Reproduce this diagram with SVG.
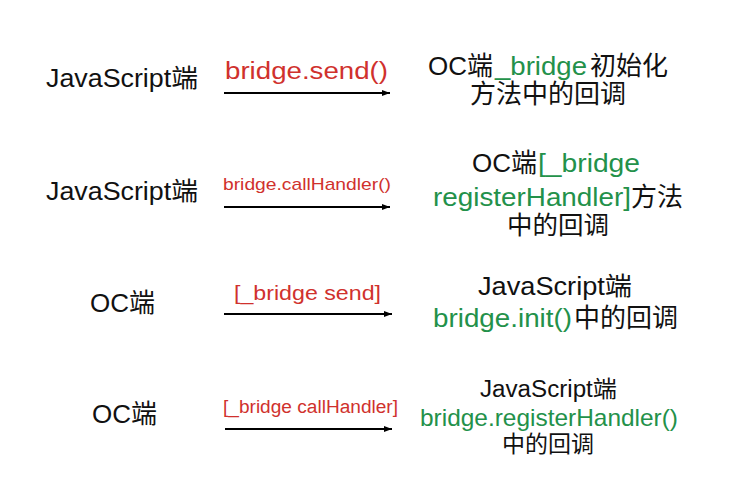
<svg xmlns="http://www.w3.org/2000/svg" width="732" height="502" viewBox="0 0 732 502">
<style>
text{font-family:"Liberation Sans","Noto Sans CJK SC",sans-serif;fill:#111}
.r{fill:#d0312d}
.g{fill:#23914a}
.arrow{stroke:#000;stroke-width:2;fill:none;marker-end:url(#ah)}
</style>
<defs>
<marker id="ah" viewBox="0 0 8 6" refX="8" refY="3" markerWidth="8" markerHeight="6" markerUnits="userSpaceOnUse" orient="auto">
<path d="M0,0L8,3L0,6Z" fill="#000"/>
</marker>
</defs>
<rect width="732" height="502" fill="#fff"/>
<g id="js-1"><text x="46" y="87" font-size="25" textLength="152" lengthAdjust="spacingAndGlyphs">JavaScript端</text></g>
<g id="oc-init-callback">
<text y="75" font-size="26"><tspan x="428">OC端</tspan><tspan x="495" class="g" textLength="92" lengthAdjust="spacingAndGlyphs">_bridge</tspan><tspan x="590">初始化</tspan></text>
<text x="470" y="103" font-size="26">方法中的回调</text>
</g>
<g id="js-2"><text x="46" y="200" font-size="25" textLength="152" lengthAdjust="spacingAndGlyphs">JavaScript端</text></g>
<g id="oc-register-callback">
<text y="172" font-size="26"><tspan x="472">OC端</tspan><tspan x="538" class="g" textLength="102" lengthAdjust="spacingAndGlyphs">[_bridge</tspan></text>
<text y="206" font-size="26"><tspan x="433" class="g" textLength="198" lengthAdjust="spacingAndGlyphs">registerHandler]</tspan><tspan x="631">方法</tspan></text>
<text x="507" y="234" font-size="25.5">中的回调</text>
</g>
<g id="oc-1"><text x="90" y="312" font-size="26">OC端</text></g>
<g id="js-init-callback">
<text x="478" y="295" font-size="25" textLength="154" lengthAdjust="spacingAndGlyphs">JavaScript端</text>
<text y="327" font-size="26"><tspan x="433" class="g" textLength="139" lengthAdjust="spacingAndGlyphs">bridge.init()</tspan><tspan x="574">中的回调</tspan></text>
</g>
<g id="oc-2"><text x="92" y="423" font-size="26">OC端</text></g>
<g id="js-register-callback">
<text x="480" y="397" font-size="23" textLength="137" lengthAdjust="spacingAndGlyphs">JavaScript端</text>
<text x="420" y="426" font-size="24" class="g" textLength="258" lengthAdjust="spacingAndGlyphs">bridge.registerHandler()</text>
<text x="502" y="452" font-size="23">中的回调</text>
</g>
<g id="connectors">
<line class="arrow" x1="224" y1="93" x2="390" y2="93"/>
<text class="r" x="225" y="79" font-size="23" textLength="163" lengthAdjust="spacingAndGlyphs">bridge.send()</text>
<line class="arrow" x1="224" y1="207" x2="390" y2="207"/>
<text class="r" x="223" y="190" font-size="17" textLength="168" lengthAdjust="spacingAndGlyphs">bridge.callHandler()</text>
<line class="arrow" x1="224" y1="314" x2="392" y2="314"/>
<text class="r" x="234" y="300" font-size="20" textLength="147" lengthAdjust="spacingAndGlyphs">[_bridge send]</text>
<line class="arrow" x1="225" y1="429" x2="392" y2="429"/>
<text class="r" x="223" y="413" font-size="18" textLength="175" lengthAdjust="spacingAndGlyphs">[_bridge callHandler]</text>
</g>
</svg>
